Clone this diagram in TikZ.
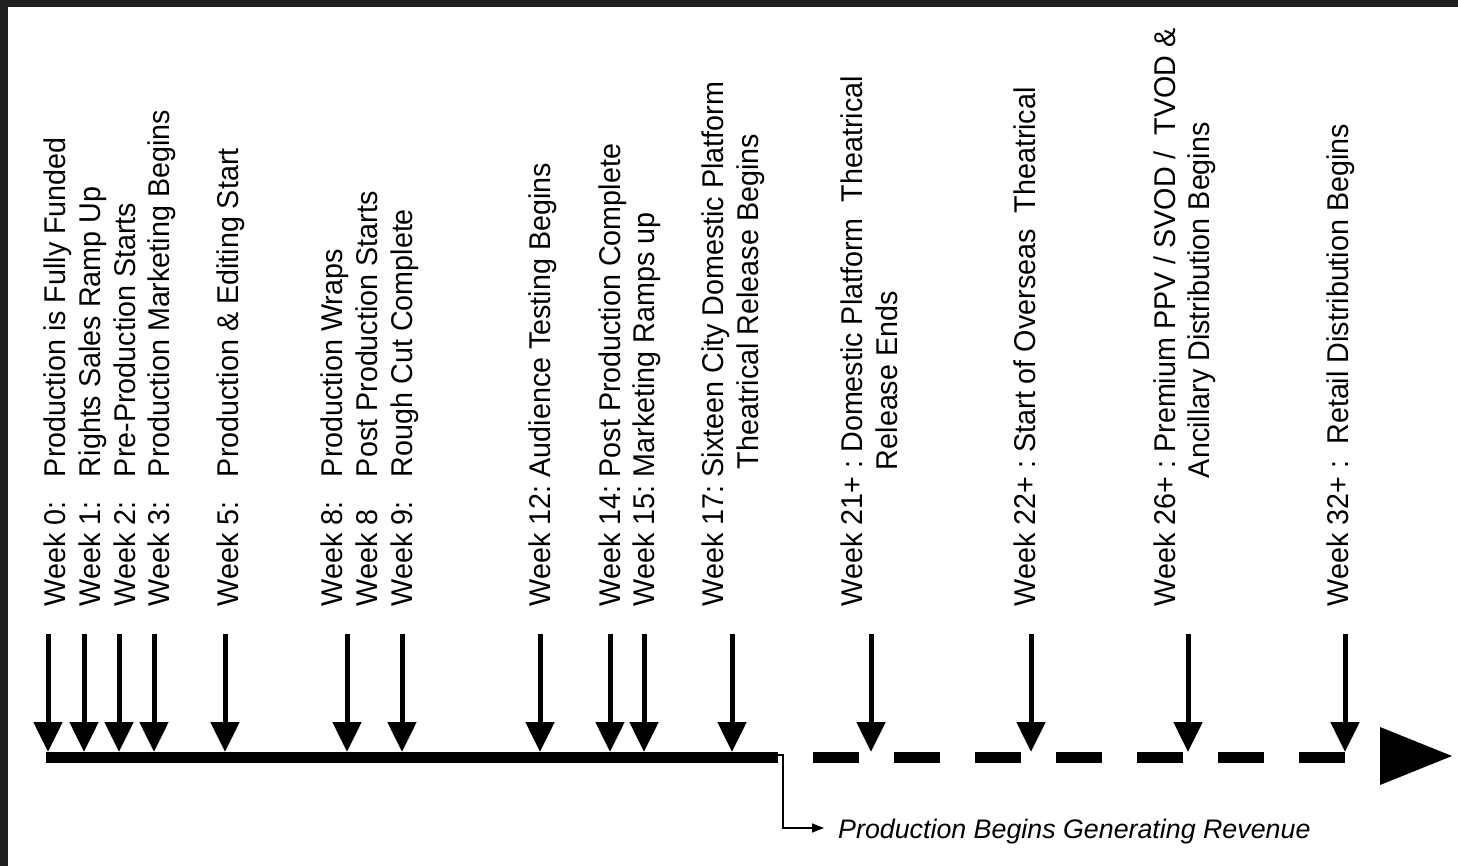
\documentclass[tikz,border=0pt]{standalone}
\usepackage{fontspec}
\setmainfont{Liberation Sans}
\usetikzlibrary{arrows.meta}
\definecolor{framegray}{HTML}{212121}
\frenchspacing
\begin{document}
\begin{tikzpicture}[x=1pt,y=-1pt,
  lbl/.style={rotate=90, yscale=1.045, anchor=base west, inner sep=0pt, outer sep=0pt,
              font=\fontsize{28.7}{34}\selectfont},
  wkarrow/.style={line width=5pt, -{Triangle[length=30pt,width=28pt]}},
  axisline/.style={line width=11pt, line cap=butt},
  revline/.style={line width=1.5pt, -{Triangle[length=12pt,width=9pt]}}
]
\useasboundingbox (0,0) rectangle (1458,866);
\fill[white] (0,0) rectangle (1458,866);
\fill[framegray] (0,0) rectangle (1458,7);
\fill[framegray] (0,0) rectangle (8,866);

% labels
\node[lbl] (w0)  at (65,606)  {Week 0:};
\node[lbl] (w1)  at (100,606) {Week 1:};
\node[lbl] (w2)  at (135,606) {Week 2:};
\node[lbl] (w3)  at (169.5,606) {Week 3:};
\node[lbl] (d0)  at (65,477)  {Production is Fully Funded};
\node[lbl] (d1)  at (100,477) {Rights Sales Ramp Up};
\node[lbl] (d2)  at (135,477) {Pre-Production Starts};
\node[lbl] (d3)  at (169.5,477) {Production Marketing Begins};
\node[lbl] (w5)  at (238,606) {Week 5:};
\node[lbl] (d5)  at (238,477) {Production \& Editing Start};
\node[lbl] (w8)  at (342,606) {Week 8:};
\node[lbl] (w8b) at (377,606) {Week 8};
\node[lbl] (w9)  at (412,606) {Week 9:};
\node[lbl] (d8)  at (342,477) {Production Wraps};
\node[lbl] (d8b) at (377,477) {Post Production Starts};
\node[lbl] (d9)  at (412,477) {Rough Cut Complete};
\node[lbl] (w12) at (550,606) {Week 12: Audience Testing Begins};
\node[lbl] (w14) at (620,606) {Week 14: Post Production Complete};
\node[lbl] (w15) at (654.5,606) {Week 15: Marketing Ramps up};
\node[lbl] (w17) at (723,606) {Week 17: Sixteen City Domestic Platform};
\node[lbl] (w17b) at (758,469) {Theatrical Release Begins};
\node[lbl] (w21) at (862,606) {Week 21+ : Domestic Platform\ \ Theatrical};
\node[lbl] (w21b) at (897,470) {Release Ends};
\node[lbl] (w22) at (1035,606) {Week 22+ : Start of Overseas\ \ Theatrical};
\node[lbl] (w26) at (1175,606) {Week 26+ : Premium PPV / SVOD /\ \ TVOD \&};
\node[lbl] (w26b) at (1209,478) {Ancillary Distribution Begins};
\node[lbl] (w32) at (1348,606) {Week 32+ :\ \ Retail Distribution Begins};

% timeline
\coordinate (axL) at (46,757);
\coordinate (axM) at (778,757);
\coordinate (dashS) at (813,757);
\coordinate (dashE) at (1345,757);
\draw[axisline] (axL) -- (axM);
\draw[axisline, dash pattern=on 46pt off 35pt] (dashS) -- (dashE);
\fill (1380,727) -- (1380,785) -- (1452,756) -- cycle;

% week arrows
\foreach \n/\x in {0/48,1/84,2/119,3/154,5/225,8/347,9/402,12/540,14/610,15/644,17/732,21/871,22/1031,26/1188,32/1345} {
  \coordinate (top\n) at (\x,634);
  \coordinate (tip\n) at (\x,752);
  \draw[wkarrow] (top\n) -- (tip\n);
}

% revenue note
\coordinate (revA) at (778,755);
\coordinate (revB) at (783,755);
\coordinate (revC) at (783,828);
\coordinate (revD) at (824,828);
\draw[revline] (revA) -- (revB) -- (revC) -- (revD);
\node[anchor=base west, inner sep=0pt, font=\fontsize{26.8}{30}\selectfont\itshape] (rev) at (838,838) {Production Begins Generating Revenue};
\end{tikzpicture}
\end{document}
